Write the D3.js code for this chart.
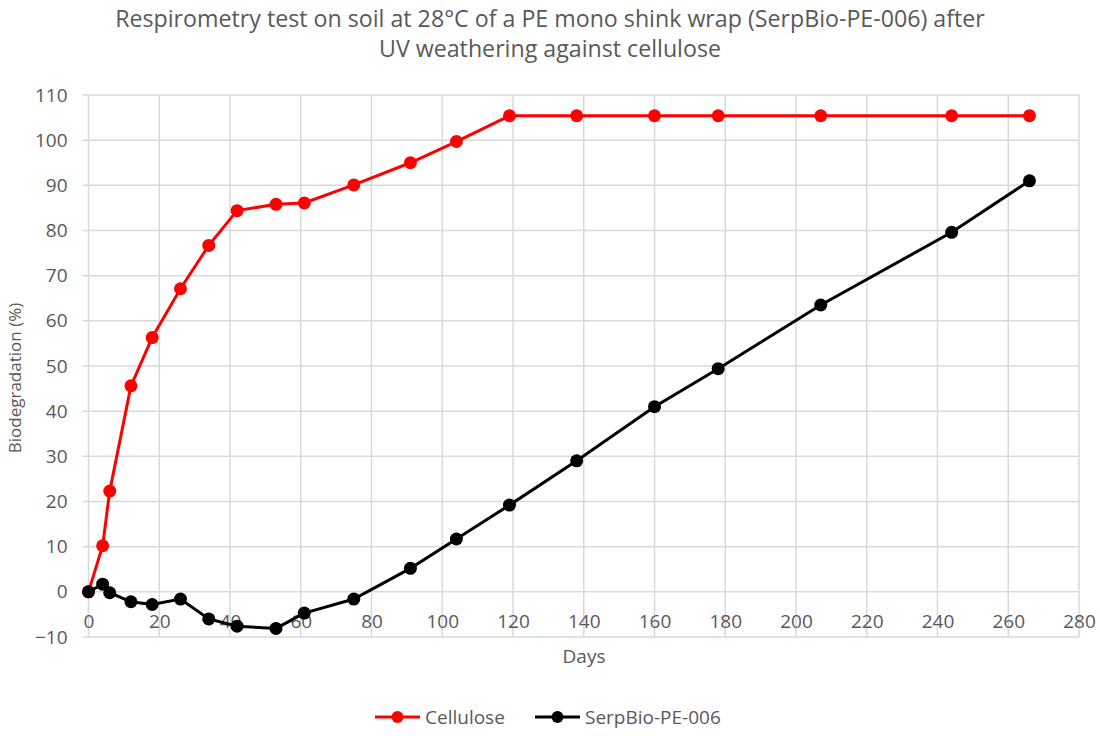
<!DOCTYPE html>
<html><head><meta charset="utf-8">
<script src="https://cdn.jsdelivr.net/npm/d3@7"></script>
<style>body{margin:0;background:#fff}text{font-family:"Open Sans",sans-serif;fill:#595959}</style>
</head><body><svg id="c" width="1100" height="736"></svg>
<script>
const days = [0,4,6,12,18,26,34,42,53,61,75,91,104,119,138,160,178,207,244,266];
const cellulose = [0,10.2,22.3,45.6,56.3,67.1,76.7,84.4,85.8,86.1,90.1,95.0,99.7,105.4,105.4,105.4,105.4,105.4,105.4,105.4];
const serpbio = [0,1.7,-0.2,-2.2,-2.8,-1.6,-6.0,-7.6,-8.1,-4.7,-1.6,5.2,11.7,19.2,29.0,41.0,49.4,63.5,79.6,91.0];
const xTicks = d3.range(0,281,20);
const yTicks = d3.range(-10,111,10);
const seriesNames = ["Cellulose","SerpBio-PE-006"];
const seriesColors = ["#ff0000","#000000"];
const titleLines = ["Respirometry test on soil at 28°C of a PE mono shink wrap (SerpBio-PE-006) after","UV weathering against cellulose"];

const svg = d3.select("#c");
const L=88.5,R=1079,T=95,B=637;
const x = d3.scaleLinear().domain([0,280]).range([L,R]);
const y = d3.scaleLinear().domain([-10,110]).range([B,T]);

svg.selectAll(".t").data(titleLines).enter().append("text")
  .attr("x",550).attr("y",(d,i)=>27+i*30).attr("text-anchor","middle")
  .style("font-size","23.2px").text(d=>d);

const g = svg.append("g");
g.selectAll(".hg").data(yTicks).enter().append("line")
  .attr("x1",L-6).attr("x2",R).attr("y1",d=>y(d)).attr("y2",d=>y(d))
  .attr("stroke","#d9d9d9").attr("stroke-width",1.5);
g.selectAll(".vg").data(xTicks).enter().append("line")
  .attr("x1",d=>x(d)).attr("x2",d=>x(d)).attr("y1",T).attr("y2",B)
  .attr("stroke","#d9d9d9").attr("stroke-width",1.5);

// y axis labels
svg.append("g").attr("transform",`translate(${L-6},0)`)
  .call(d3.axisLeft(y).tickValues(yTicks).tickSize(0).tickPadding(15))
  .call(a=>{a.select(".domain").remove();a.selectAll("text").style("font-size","19px").attr("fill","#595959").style("font-family","Open Sans");});
// x axis labels at y=0
svg.append("g").attr("transform",`translate(0,${y(0)})`)
  .call(d3.axisBottom(x).tickValues(xTicks).tickSize(0).tickPadding(23))
  .call(a=>{a.select(".domain").remove();a.selectAll("text").style("font-size","19px").attr("fill","#595959").style("font-family","Open Sans");});

svg.append("text").attr("transform",`translate(21,${(T+B)/2 + 12}) rotate(-90)`)
  .attr("text-anchor","middle").style("font-size","17px").text("Biodegradation (%)");
svg.append("text").attr("x",584).attr("y",663).attr("text-anchor","middle")
  .style("font-size","19px").text("Days");

const data = [cellulose, serpbio];
const line = d3.line().x((d,i)=>x(days[i])).y(d=>y(d));
data.forEach((s,k)=>{
  svg.append("path").datum(s).attr("d",line).attr("fill","none")
    .attr("stroke",seriesColors[k]).attr("stroke-width",3);
  svg.selectAll(".p"+k).data(s).enter().append("circle")
    .attr("cx",(d,i)=>x(days[i])).attr("cy",d=>y(d)).attr("r",6.5)
    .attr("fill",seriesColors[k]);
});

// legend
const lg = svg.append("g");
const lx=[375,535];
seriesNames.forEach((n,k)=>{
  lg.append("line").attr("x1",lx[k]).attr("x2",lx[k]+45).attr("y1",717).attr("y2",717)
    .attr("stroke",seriesColors[k]).attr("stroke-width",3);
  lg.append("circle").attr("cx",lx[k]+22.5).attr("cy",717).attr("r",6).attr("fill",seriesColors[k]);
  lg.append("text").attr("x",lx[k]+50).attr("y",724).style("font-size","19px").text(n);
});
</script></body></html>
